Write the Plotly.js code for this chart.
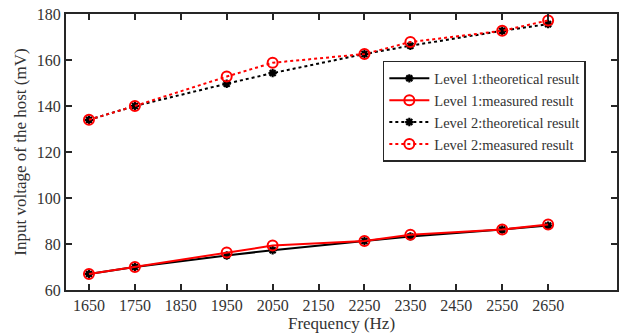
<!DOCTYPE html>
<html><head><meta charset="utf-8">
<script src="https://cdn.plot.ly/plotly-3.0.1.min.js"></script>
<style>body{margin:0;background:#fff}#c{width:624px;height:335px}</style>
</head><body><div id="c"></div>
<script>
const freq = [1650, 1750, 1950, 2050, 2250, 2350, 2550, 2650];
const level1Theo = [67, 70, 75, 77.3, 81.3, 83.3, 86.3, 88];
const level1Meas = [67, 70, 76.3, 79.3, 81.3, 84, 86.3, 88.5];
const level2Theo = [134, 140, 149.7, 154.3, 162.6, 166.2, 172.7, 175.6];
const level2Meas = [134, 140, 152.8, 158.8, 162.6, 167.8, 172.7, 177.2];
const xTicks = [1650, 1750, 1850, 1950, 2050, 2150, 2250, 2350, 2450, 2550, 2650];
const names = ['Level 1:theoretical result','Level 1:measured result','Level 2:theoretical result','Level 2:measured result'];

const theoMarker = {symbol:'asterisk-open', size:7, color:'#000', line:{color:'#000', width:2.2}};
const measMarker = {symbol:'circle-open', size:10, color:'#ff0000', line:{color:'#ff0000', width:2}};
const traces = [
  {x:freq, y:level1Theo, name:names[0], mode:'lines+markers', line:{color:'#000', width:2}, marker:theoMarker},
  {x:freq, y:level1Meas, name:names[1], mode:'lines+markers', line:{color:'#ff0000', width:2}, marker:measMarker},
  {x:freq, y:level2Theo, name:names[2], mode:'lines+markers', line:{color:'#000', width:2, dash:'dot'}, marker:theoMarker},
  {x:freq, y:level2Meas, name:names[3], mode:'lines+markers', line:{color:'#ff0000', width:2, dash:'dot'}, marker:measMarker}
];
const axisCommon = {showline:true, linecolor:'#262626', linewidth:2, mirror:'ticks', ticks:'inside', ticklen:6, tickwidth:2, tickcolor:'#262626', showgrid:false, zeroline:false, tickfont:{size:16, color:'#333'}};
const layout = {
  width:624, height:335,
  margin:{l:66, r:7, t:14, b:45},
  paper_bgcolor:'#fff', plot_bgcolor:'#fff',
  font:{family:'"Liberation Serif", "Times New Roman", serif', color:'#333'},
  showlegend:true,
  legend:{x:0.575, y:0.83, xanchor:'left', yanchor:'top', bgcolor:'#fff', bordercolor:'#262626', borderwidth:1.5, font:{size:14.5, color:'#333'}, tracegroupgap:0, itemwidth:40},
  xaxis:Object.assign({}, axisCommon, {range:[1600, 2800], tickvals:xTicks, ticktext:xTicks.map(String), title:{text:'Frequency (Hz)', font:{size:17, color:'#333'}, standoff:4}}),
  yaxis:Object.assign({}, axisCommon, {range:[60, 180], tickvals:[60,80,100,120,140,160,180], title:{text:'Input voltage of the host (mV)', font:{size:17, color:'#333'}, standoff:6}})
};
Plotly.newPlot('c', traces, layout, {displayModeBar:false, staticPlot:true});
</script></body></html>
